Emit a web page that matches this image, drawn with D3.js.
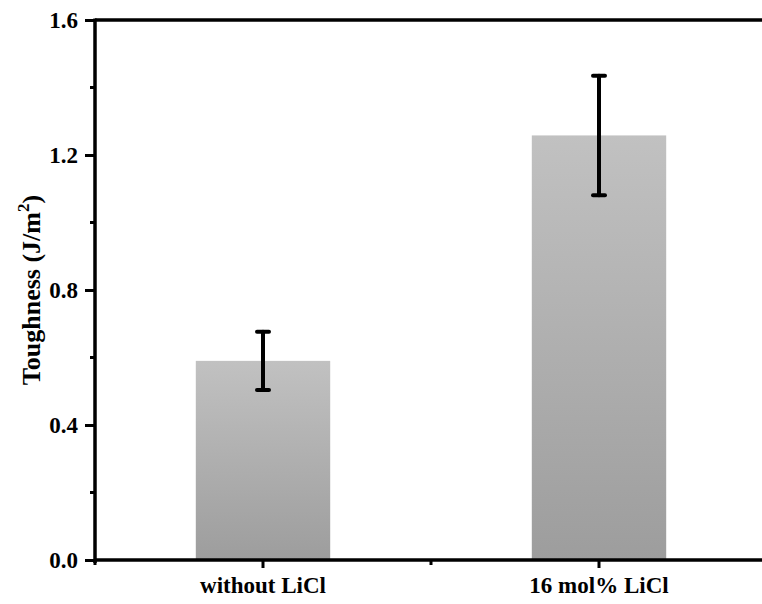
<!DOCTYPE html>
<html>
<head>
<meta charset="utf-8">
<script src="https://cdn.jsdelivr.net/npm/d3@7"></script>
<style>
  body { margin: 0; background: #fff; }
  text { font-family: "Liberation Serif", "Times New Roman", serif; font-weight: bold; fill: #000; }
</style>
</head>
<body>
<div id="chart"></div>
<script>
// data
const categories = ["without LiCl", "16 mol% LiCl"];
const toughness = [0.59, 1.258];
const errors = [0.086, 0.177];
const yTicks = [0.0, 0.4, 0.8, 1.2, 1.6];
const yMinorTicks = [0.2, 0.6, 1.0, 1.4];

const width = 762, height = 604;
const plotLeft = 95, plotTop = 20, plotBottom = 560, plotRight = 767;

const svg = d3.select("#chart").append("svg")
    .attr("width", width)
    .attr("height", height);

const defs = svg.append("defs");
const grad = defs.append("linearGradient")
    .attr("id", "barGrad")
    .attr("x1", 0).attr("y1", 0).attr("x2", 0).attr("y2", 1);
grad.append("stop").attr("offset", "0%").attr("stop-color", "#c1c1c1");
grad.append("stop").attr("offset", "100%").attr("stop-color", "#9d9d9d");

const x = d3.scaleBand()
    .domain(categories)
    .range([plotLeft, plotRight])
    .paddingInner(0.6)
    .paddingOuter(0.3);

const y = d3.scaleLinear()
    .domain([0, 1.6])
    .range([plotBottom, plotTop]);

// bars
svg.selectAll("rect.bar")
    .data(categories)
    .enter()
    .append("rect")
    .attr("class", "bar")
    .attr("x", d => x(d))
    .attr("y", (d, i) => y(toughness[i]))
    .attr("width", x.bandwidth())
    .attr("height", (d, i) => y(0) - y(toughness[i]))
    .attr("fill", "url(#barGrad)");

// error bars
const eb = svg.append("g")
    .attr("stroke", "#000")
    .attr("stroke-width", 4)
    .attr("stroke-linecap", "round");
categories.forEach(function(c, i) {
    const cx = x(c) + x.bandwidth() / 2;
    const hi = y(toughness[i] + errors[i]);
    const lo = y(toughness[i] - errors[i]);
    eb.append("line").attr("x1", cx).attr("x2", cx).attr("y1", hi).attr("y2", lo);
    eb.append("line").attr("x1", cx - 6).attr("x2", cx + 6).attr("y1", hi).attr("y2", hi);
    eb.append("line").attr("x1", cx - 6).attr("x2", cx + 6).attr("y1", lo).attr("y2", lo);
});

// y axis
const yAxis = svg.append("g")
    .attr("transform", "translate(" + plotLeft + ",0)")
    .call(d3.axisLeft(y).tickValues(yTicks).tickFormat(d3.format(".1f")).tickSize(10).tickPadding(7));
yAxis.select(".domain").remove();
yAxis.selectAll("line").attr("stroke-width", 3);
yAxis.selectAll("text").style("font-size", "23px");

svg.append("g")
    .attr("transform", "translate(" + plotLeft + ",0)")
    .selectAll("line")
    .data(yMinorTicks)
    .enter()
    .append("line")
    .attr("x1", -5).attr("x2", 0)
    .attr("y1", d => y(d)).attr("y2", d => y(d))
    .attr("stroke", "#000").attr("stroke-width", 3);

// x axis
const xAxis = svg.append("g")
    .attr("transform", "translate(0," + plotBottom + ")")
    .call(d3.axisBottom(x).tickSize(8).tickPadding(9));
xAxis.select(".domain").remove();
xAxis.selectAll("line").attr("stroke-width", 3);
xAxis.selectAll("text").style("font-size", "23px");

// minor x ticks between categories
const minorX = [plotLeft, x(categories[0]) + x.step() / 2 + x.bandwidth() / 2];
svg.append("g")
    .selectAll("line")
    .data(minorX)
    .enter()
    .append("line")
    .attr("x1", d => d).attr("x2", d => d)
    .attr("y1", plotBottom).attr("y2", plotBottom + 5)
    .attr("stroke", "#000").attr("stroke-width", 3);

// frame lines
svg.append("line")
    .attr("x1", plotLeft).attr("x2", width)
    .attr("y1", plotBottom).attr("y2", plotBottom)
    .attr("stroke", "#000").attr("stroke-width", 3.5);
svg.append("line")
    .attr("x1", plotLeft).attr("x2", width)
    .attr("y1", plotTop).attr("y2", plotTop)
    .attr("stroke", "#000").attr("stroke-width", 3.5);
svg.append("line")
    .attr("x1", plotLeft).attr("x2", plotLeft)
    .attr("y1", plotTop - 1.5).attr("y2", plotBottom + 3)
    .attr("stroke", "#000").attr("stroke-width", 3.5);

// y label
const lab = svg.append("text")
    .attr("transform", "translate(40," + (plotTop + plotBottom) / 2 + ") rotate(-90)")
    .attr("text-anchor", "middle")
    .style("font-size", "26px");
lab.append("tspan").text("Toughness (J/m");
lab.append("tspan").attr("dy", -11).style("font-size", "17px").text("2");
lab.append("tspan").attr("dy", 11).text(")");
</script>
</body>
</html>
